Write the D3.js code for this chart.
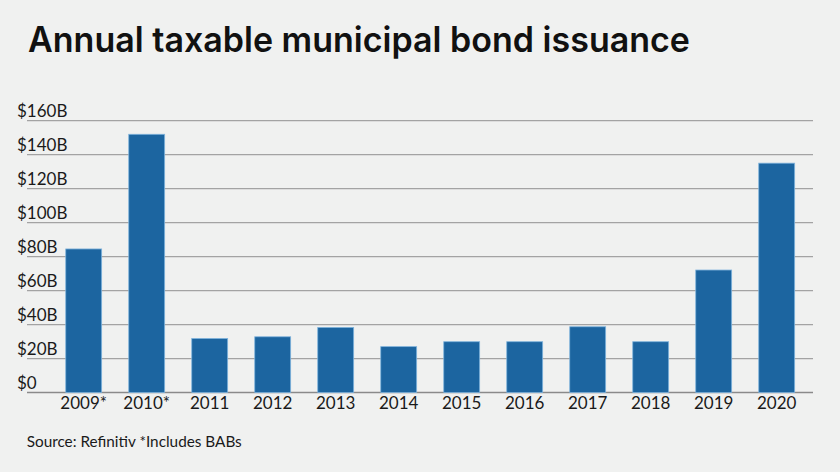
<!DOCTYPE html>
<html>
<head>
<meta charset="utf-8">
<script src="https://cdn.jsdelivr.net/npm/d3@7"></script>
<style>
  html, body { margin: 0; padding: 0; background: #f0f1f0; }
  svg { display: block; }
</style>
</head>
<body>
<svg id="chart" width="840" height="472"></svg>
<script>
const years = ["2009*", "2010*", "2011", "2012", "2013", "2014", "2015", "2016", "2017", "2018", "2019", "2020"];
const issuance = [84.5, 152, 31.8, 32.8, 38.3, 27, 29.9, 29.9, 38.7, 29.9, 72.1, 135];
const yTicks = [0, 20, 40, 60, 80, 100, 120, 140, 160];
const yTickLabels = ["$0", "$20B", "$40B", "$60B", "$80B", "$100B", "$120B", "$140B", "$160B"];
const titleText = "Annual taxable municipal bond issuance";
const sourceText = "Source: Refinitiv *Includes BABs";

const svg = d3.select("#chart");
svg.append("rect").attr("width", 840).attr("height", 472).attr("fill", "#f0f1f0");

const y = d3.scaleLinear().domain([0, 160]).range([392.5, 120.7]);
const x = d3.scaleBand().domain(years).range([52.2, 808.2]).paddingInner(0.43).paddingOuter(0.215);

// gridlines
svg.append("g").selectAll("line").data(yTicks).join("line")
  .attr("x1", 27).attr("x2", 813)
  .attr("y1", d => y(d)).attr("y2", d => y(d))
  .attr("stroke", d => d === 0 ? "#8a8a8a" : "#a3a3a3")
  .attr("stroke-width", 1.3);

// y labels
svg.append("g").selectAll("text").data(yTicks).join("text")
  .attr("x", 17).attr("y", d => y(d) - 4)
  .attr("font-family", "Lato, 'Noto Sans', sans-serif")
  .attr("font-size", 17)
  .attr("fill", "#1a1a1a")
  .text((d, i) => yTickLabels[i]);

// bars
svg.append("g").selectAll("rect").data(issuance).join("rect")
  .attr("x", (d, i) => x(years[i]))
  .attr("width", x.bandwidth())
  .attr("y", d => y(d))
  .attr("height", d => y(0) - y(d))
  .attr("fill", "#1c65a0")
  .attr("stroke", "#7fb3dc")
  .attr("stroke-width", 0.8);

// x labels
svg.append("g").selectAll("text").data(years).join("text")
  .attr("x", d => x(d) + x.bandwidth() / 2)
  .attr("y", 409)
  .attr("text-anchor", "middle")
  .attr("font-family", "Lato, 'Noto Sans', sans-serif")
  .attr("font-size", 17)
  .attr("fill", "#1a1a1a")
  .text(d => d);

// title
svg.append("text")
  .attr("x", 28).attr("y", 52.3)
  .attr("font-family", "Inter, Lato, 'Noto Sans', sans-serif")
  .attr("font-weight", 600)
  .attr("font-size", 35)
  .attr("fill", "#111")
  .attr("textLength", 662)
  .attr("lengthAdjust", "spacingAndGlyphs")
  .text(titleText);

// source
svg.append("text")
  .attr("x", 26.7).attr("y", 446.7)
  .attr("font-family", "Lato, 'Noto Sans', sans-serif")
  .attr("font-size", 15)
  .attr("fill", "#1a1a1a")
  .attr("textLength", 215)
  .attr("lengthAdjust", "spacingAndGlyphs")
  .text(sourceText);
</script>
</body>
</html>
